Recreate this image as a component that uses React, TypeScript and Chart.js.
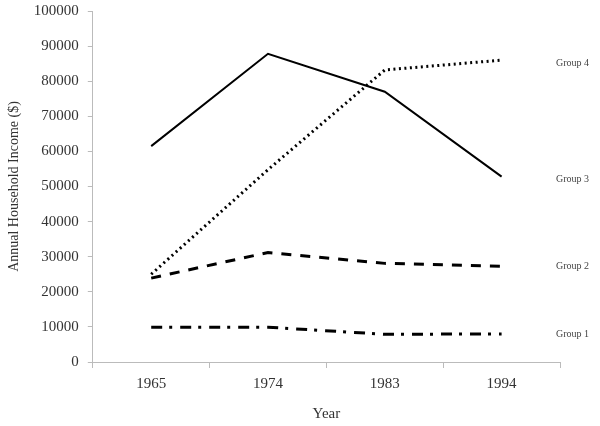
import React, { useEffect, useRef } from "react";
import { Chart, registerables } from "chart.js";

Chart.register(...registerables);

const years = ["1965", "1974", "1983", "1994"];
const group1 = [9900, 9900, 7900, 8000];
const group2 = [23900, 31200, 28100, 27300];
const group3 = [61500, 87800, 77000, 52800];
const group4 = [25000, 54800, 83200, 86000];
const groupNames = ["Group 1", "Group 2", "Group 3", "Group 4"];
const labelValues = [8000, 27300, 52000, 85000];

const FONT = "'Liberation Serif', 'DejaVu Serif', serif";

const endLabels = {
  id: "endLabels",
  afterDraw(chart: any) {
    const ctx = chart.ctx;
    const y = chart.scales.y;
    ctx.save();
    ctx.font = `10px ${FONT}`;
    ctx.fillStyle = "#444";
    ctx.textAlign = "left";
    ctx.textBaseline = "middle";
    groupNames.forEach((n, i) => {
      ctx.fillText(n, 556, y.getPixelForValue(labelValues[i]));
    });
    ctx.restore();
  },
};

export default function App() {
  const ref = useRef<HTMLCanvasElement | null>(null);
  useEffect(() => {
    if (!ref.current) return;
    const mk = (data: number[], dash: number[], width: number, cap: string) => ({
      data,
      borderColor: "#000",
      backgroundColor: "#000",
      borderWidth: width,
      borderDash: dash,
      borderCapStyle: cap,
      pointRadius: 0,
      tension: 0,
      fill: false,
    });
    const chart = new Chart(ref.current, {
      type: "line",
      data: {
        labels: years,
        datasets: [
          mk(group1, [11, 7, 3, 8], 3, "butt"),
          mk(group2, [10, 9], 3, "butt"),
          mk(group3, [], 2, "butt"),
          mk(group4, [2, 3.5], 3, "butt"),
        ] as any,
      },
      options: {
        animation: false,
        responsive: false,
        maintainAspectRatio: false,
        layout: { padding: { top: 11, right: 40, left: 6, bottom: 3 } },
        plugins: { legend: { display: false }, tooltip: { enabled: false } },
        scales: {
          x: {
            offset: true,
            grid: {
              offset: true,
              drawOnChartArea: false,
              drawTicks: true,
              tickLength: 6,
              color: "#bbb",
            },
            border: { color: "#bbb", width: 1 },
            ticks: {
              color: "#333",
              font: { family: FONT, size: 15 },
              padding: 7,
            },
            title: {
              display: true,
              text: "Year",
              color: "#333",
              font: { family: FONT, size: 15 },
              padding: { top: 5, bottom: 0 },
            },
          },
          y: {
            min: 0,
            max: 100000,
            afterFit: (scale: any) => {
              scale.paddingTop = 0;
            },
            grid: {
              drawOnChartArea: false,
              drawTicks: true,
              tickLength: 5,
              color: "#bbb",
            },
            border: { color: "#bbb", width: 1 },
            ticks: {
              stepSize: 10000,
              color: "#333",
              font: { family: FONT, size: 15 },
              padding: 9,
              callback: (v: any) => String(v),
            },
            title: {
              display: true,
              text: "Annual Household Income ($)",
              color: "#333",
              font: { family: FONT, size: 14 },
              padding: { top: 0, bottom: 2 },
            },
          },
        },
      },
      plugins: [endLabels],
    } as any);
    return () => chart.destroy();
  }, []);
  return (
    <div style={{ position: "fixed", left: 0, top: 0, width: 600, height: 426, background: "#fff" }}>
      <canvas ref={ref} width={600} height={426} style={{ width: 600, height: 426 }} />
    </div>
  );
}
